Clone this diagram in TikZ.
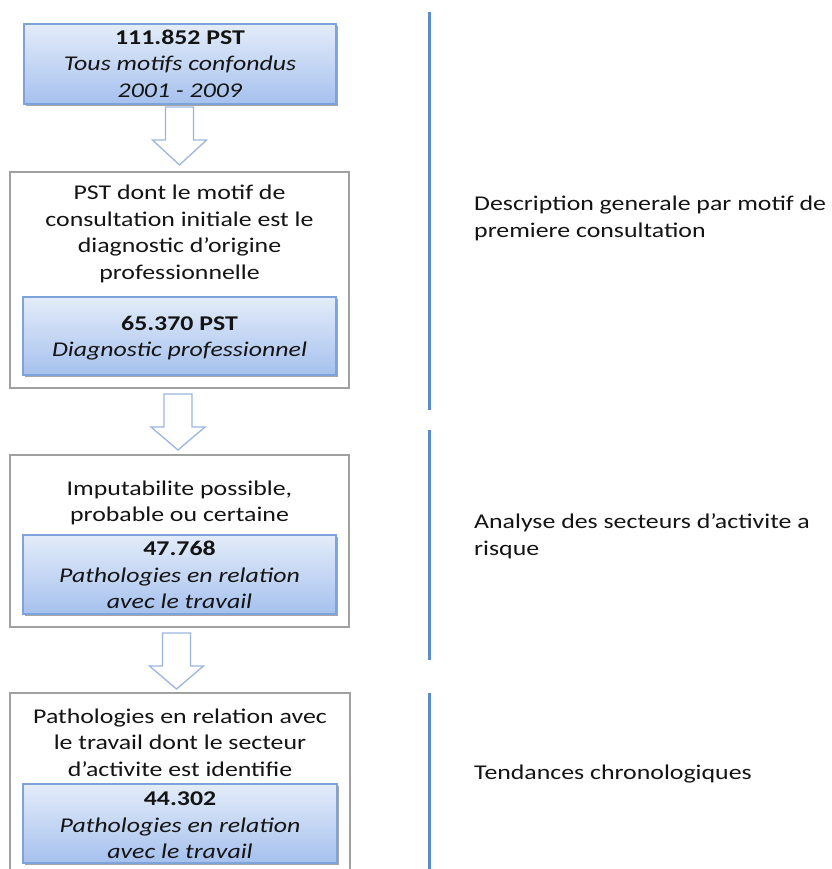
\documentclass[tikz,border=0pt]{standalone}
\usepackage{fontspec}
\usepackage{graphicx}
\setmainfont{Carlito}
\usetikzlibrary{calc}
\definecolor{bluetop}{HTML}{E3ECF9}
\definecolor{bluebot}{HTML}{A6C1EE}
\definecolor{blueedge}{HTML}{7DA3DA}
\definecolor{grayedge}{HTML}{A0A0A0}
\definecolor{arrowedge}{HTML}{9AB6DE}
\definecolor{sepline}{HTML}{5B8CD3}
\definecolor{txt}{HTML}{141414}
\newcommand{\widec}[1]{\scalebox{1.23}[1]{\fontsize{21}{26.5}\selectfont\begin{tabular}{@{}c@{}}#1\end{tabular}}}
\newcommand{\widel}[1]{\scalebox{1.23}[1]{\fontsize{21}{26.5}\selectfont\begin{tabular}{@{}l@{}}#1\end{tabular}}}
\begin{document}
\begin{tikzpicture}[x=1pt,y=-1pt,
  bluebox/.style={draw=blueedge, line width=1.3pt, top color=bluetop, bottom color=bluebot,
    minimum width=#1, inner sep=0pt},
  outerbox/.style={draw=grayedge, line width=2pt, fill=white, inner sep=0pt},
  shadowbox/.style={fill=black!35, draw=none, inner sep=0pt},
  label/.style={text=txt, inner sep=0pt},
  sidelabel/.style={text=txt, inner sep=0pt, anchor=west},
  blockarrow/.style={draw=arrowedge, line width=1.3pt, fill=white, line join=miter},
  sep/.style={draw=sepline, line width=3pt}
]
\clip (0,0) rectangle (831,869);
\fill[white] (0,0) rectangle (831,869);

% box 1
\node[shadowbox, minimum width=312pt, minimum height=80pt] at (182,66) {};
\node[bluebox=312pt, minimum height=80pt] (b1) at (180,64) {};
\node[label] (t1) at (180,65.5) {\widec{\textbf{111.852 PST}\\ \textit{Tous motifs confondus}\\ \textit{2001 - 2009}}};

% box 2
\node[outerbox, minimum width=339pt, minimum height=216pt] (o2) at (179.5,280) {};
\node[label] (t2) at (179.5,234) {\widec{PST dont le motif de\\ consultation initiale est le\\ diagnostic d'origine\\ professionnelle}};
\node[shadowbox, minimum width=313pt, minimum height=78pt] at (181.5,338) {};
\node[bluebox=313pt, minimum height=78pt] (b2) at (179.5,336) {};
\node[label] (t2b) at (179.5,338) {\widec{\textbf{65.370 PST}\\ \textit{Diagnostic professionnel}}};

% box 3
\node[outerbox, minimum width=339pt, minimum height=172pt] (o3) at (179.5,541) {};
\node[label] (t3) at (179.5,503) {\widec{Imputabilite possible,\\ probable ou certaine}};
\node[shadowbox, minimum width=313pt, minimum height=79pt] at (181.5,576.5) {};
\node[bluebox=313pt, minimum height=79pt] (b3) at (179.5,574.5) {};
\node[label] (t3b) at (179.5,577) {\widec{\textbf{47.768}\\ \textit{Pathologies en relation}\\ \textit{avec le travail}}};

% box 4 (runs past the bottom edge)
\node[outerbox, minimum width=340pt, minimum height=200pt] (o4) at (180,793) {};
\node[label] (t4) at (180,744.5) {\widec{Pathologies en relation avec\\ le travail dont le secteur\\ d'activite est identifie}};
\node[shadowbox, minimum width=314pt, minimum height=79pt] at (182,825.5) {};
\node[bluebox=314pt, minimum height=79pt] (b4) at (180,823.5) {};
\node[label] (t4b) at (180,827) {\widec{\textbf{44.302}\\ \textit{Pathologies en relation}\\ \textit{avec le travail}}};

% block arrows between the boxes
\newcommand{\myblockarrow}[3]{%
  \draw[blockarrow] ($(#1)+(-14,0)$) -- ($(#1)+(14,0)$) -- ($(#1)+(14,#2)$) -- ($(#1)+(27,#2)$)
     -- ($(#1)+(0,#3)$) -- ($(#1)+(-27,#2)$) -- ($(#1)+(-14,#2)$) -- cycle;}
\coordinate (a1) at (179.5,107);
\coordinate (a2) at (178,394);
\coordinate (a3) at (176.5,633);
\myblockarrow{a1}{33}{58}
\myblockarrow{a2}{33}{56}
\myblockarrow{a3}{33}{56}

% separators
\coordinate (s1a) at (429,12);  \coordinate (s1b) at (429,410);
\coordinate (s2a) at (429,430); \coordinate (s2b) at (429,660);
\coordinate (s3a) at (429,693); \coordinate (s3b) at (429,880);
\draw[sep] (s1a) -- (s1b);
\draw[sep] (s2a) -- (s2b);
\draw[sep] (s3a) -- (s3b);

% side labels
\node[sidelabel] (r1) at (474,218.5) {\widel{Description generale par motif de\\ premiere consultation}};
\node[sidelabel] (r2) at (474,536.5) {\widel{Analyse des secteurs d'activite a\\ risque}};
\node[sidelabel] (r3) at (474,774) {\widel{Tendances chronologiques}};
\end{tikzpicture}
\end{document}
